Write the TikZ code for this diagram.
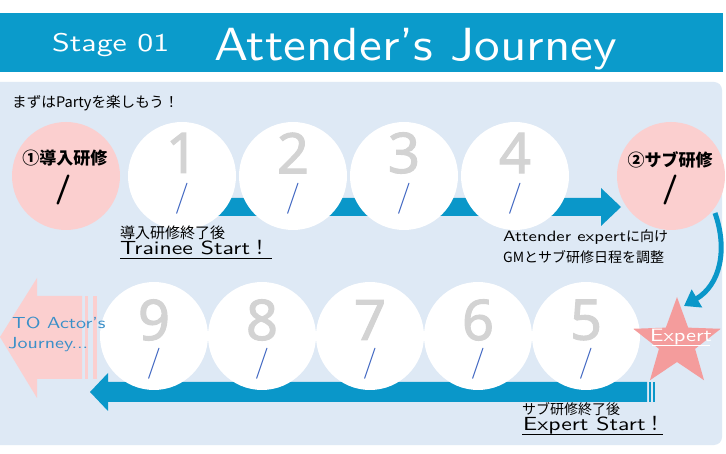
\documentclass[tikz,border=0pt]{standalone}
\usepackage{fontspec}
\usetikzlibrary{arrows.meta}
\newfontfamily\jp{Noto Sans CJK JP}
\newfontfamily\num{Noto Sans}[FakeBold=1.8]
\newfontfamily\handf{lmsans10-regular.otf}[FakeStretch=1.25]
\newfontfamily\handt{lmsans10-regular.otf}[FakeStretch=1.1]
\definecolor{hdrblue}{HTML}{0B9BCB}
\definecolor{panel}{HTML}{DEE9F5}
\definecolor{pinkc}{HTML}{FBCFCF}
\definecolor{starpink}{HTML}{F49C9C}
\definecolor{digitgray}{HTML}{D3D3D3}
\definecolor{slashblue}{HTML}{3A62C0}
\definecolor{arrowblue}{HTML}{0A97C9}
\definecolor{textblue}{HTML}{3A8FC8}
\tikzset{
  daycircle/.style={circle, fill=white, minimum size=108pt, inner sep=0pt},
  pinkcircle/.style={circle, fill=pinkc, minimum size=108pt, inner sep=0pt},
  digit/.style={font=\num\fontsize{56}{56}\selectfont, text=digitgray, inner sep=0pt},
  dslash/.style={font=\sffamily\fontsize{31}{31}\selectfont, text=slashblue, inner sep=0pt},
  bslash/.style={font=\sffamily\bfseries\fontsize{30}{30}\selectfont, text=black, inner sep=0pt},
  pinktitle/.style={font=\jp\bfseries\fontsize{17}{17}\selectfont, inner sep=0pt},
  jplabel/.style={font=\jp\fontsize{14}{14}\selectfont, inner sep=0pt, anchor=west},
  hand/.style={font=\handf\fontsize{19}{19}\selectfont, inner sep=0pt, anchor=base west},
  bandfill/.style={fill=arrowblue},
}
\begin{document}
\begin{tikzpicture}[x=1pt,y=-1pt]
\useasboundingbox (0,0) rectangle (726,454);
\fill[white] (0,0) rectangle (726,454);
% header
\fill[hdrblue] (0,13) rectangle (723,72);
\node[font=\handf\fontsize{25.5}{25.5}\selectfont, text=white, inner sep=0pt, anchor=base west] (stage) at (52,52) {Stage 01};
\node[font=\handt\fontsize{46.5}{46.5}\selectfont, text=white, inner sep=0pt, anchor=base west] (title) at (214,61) {Attender’s Journey};
% panel
\fill[panel, rounded corners=8] (-10,82) rectangle (722,445);
\node[font=\jp\fontsize{14.6}{14.6}\selectfont, inner sep=0pt, anchor=west] (intro) at (12,103) {まずはPartyを楽しもう！};
% top arrow
\fill[bandfill] (215,198) -- (601,198) -- (601,188) -- (621,207) -- (601,226) -- (601,216) -- (215,216) -- cycle;
% bottom arrow
\fill[bandfill] (647,382) -- (108,382) -- (108,373) -- (90,392) -- (108,411) -- (108,402) -- (647,402) -- cycle;
\fill[bandfill] (649,382) rectangle (651,402);
\fill[bandfill] (653,382) rectangle (655,402);
% left pink arrow
\fill[pinkc] (0,337) -- (37,278) -- (37,296) -- (82,296) -- (82,379) -- (37,379) -- (37,398) -- cycle;
\fill[pinkc] (85,296) rectangle (88,379);
\fill[pinkc] (93,296) rectangle (97,379);
% pink circles
\node[pinkcircle] (p1) at (66,176) {};
\node[pinktitle] (p1t) at (65,158) {①導入研修};
\node[bslash] (p1s) at (63,190) {/};
\node[pinkcircle] (p2) at (671,176) {};
\node[pinktitle] (p2t) at (670,160) {②サブ研修};
\node[bslash] (p2s) at (670,190) {/};
% curved arrow
\draw[arrowblue, line width=5pt, -{Triangle[width=20pt,length=15pt]}] (715,213) .. controls (728,250) and (720,285) .. (684,306);
% top circles
\foreach \n/\x in {1/182,2/293,3/404,4/515}{
  \node[daycircle] (c\n) at (\x,176) {};
  \node[digit] (d\n) at (\x,153) {\n};
  \node[dslash] (s\n) at (\x,199) {/};
}
% bottom circles
\foreach \n/\x in {9/154,8/262,7/370,6/478,5/586}{
  \node[daycircle] (c\n) at (\x,336) {};
  \node[digit] (d\n) at (\x,320) {\n};
  \node[dslash] (s\n) at (\x,364) {/};
}
% star
\begin{scope}[shift={(677,343)}]
\fill[starpink] (-90:46) -- (-54:19) -- (-18:46) -- (18:19) -- (54:46) -- (90:19) -- (126:46) -- (162:19) -- (198:46) -- (234:19) -- cycle;
\end{scope}
\node[font=\handf\fontsize{18}{18}\selectfont, text=white, inner sep=0pt] (exp) at (681,337) {Expert};
\draw[white, line width=0.8pt] (652,345) -- (710,345);
% pink arrow text
\node[font=\handf\fontsize{16}{16}\selectfont, text=textblue, inner sep=0pt, anchor=west] (to1) at (12,323) {TO Actor’s};
\node[font=\handf\fontsize{16}{16}\selectfont, text=textblue, inner sep=0pt, anchor=west] (to2) at (8,345) {Journey...};
% labels
\node[jplabel, font=\jp\fontsize{15}{15}\selectfont] (l1) at (120,233) {導入研修終了後};
\node[hand] (l2) at (120,255) {Trainee Start{\jp ！}};
\draw[black, line width=0.8pt] (120,258) -- (272,258);
\node[hand, font=\handf\fontsize{15}{15}\selectfont, anchor=west] (l3) at (503,237) {Attender expert{\jp\fontsize{14}{14}\selectfont に向け}};
\node[jplabel] (l4) at (503,257) {GMとサブ研修日程を調整};
\node[jplabel] (l5) at (522,409) {サブ研修終了後};
\node[hand] (l6) at (523,431) {Expert Start{\jp ！}};
\draw[black, line width=0.8pt] (522,434) -- (663,434);
\end{tikzpicture}
\end{document}
